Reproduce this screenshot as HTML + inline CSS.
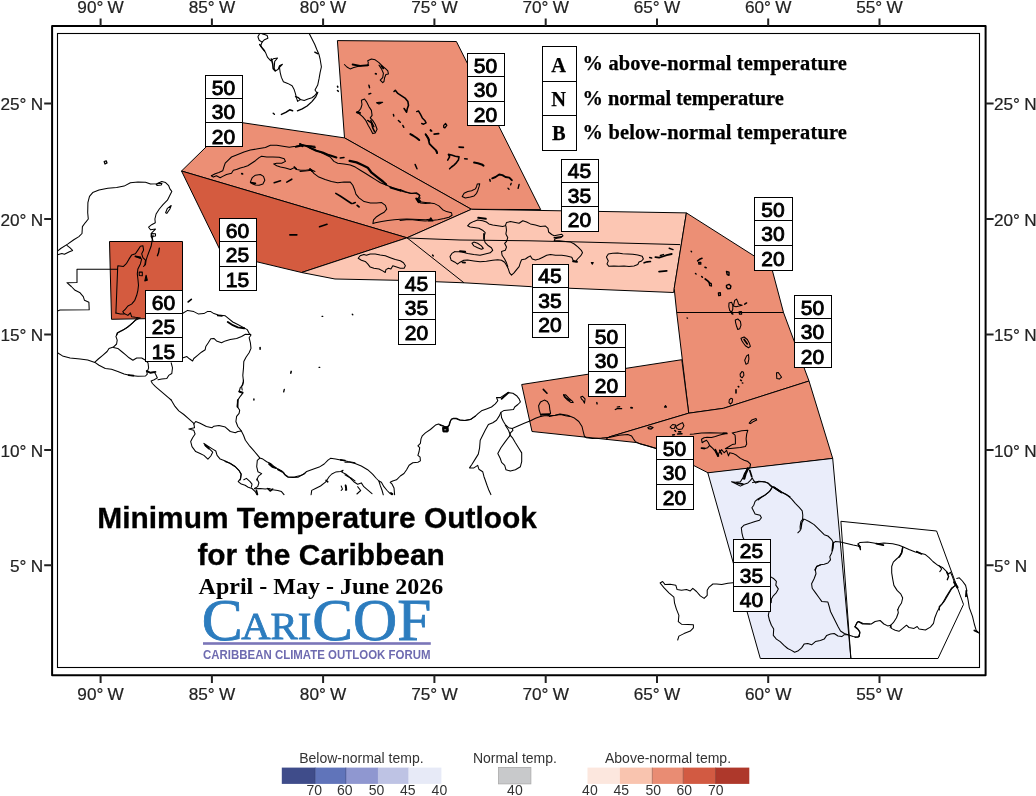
<!DOCTYPE html>
<html lang="en"><head><meta charset="utf-8"><title>Minimum Temperature Outlook for the Caribbean</title>
<style>
html,body{margin:0;padding:0;background:#fff}
svg{display:block}
.ax{font-family:"Liberation Sans",Arial,sans-serif;font-size:17.2px;fill:#222;stroke:#222;stroke-width:0.2;word-spacing:-0.5px}
.cb{font-family:"Liberation Sans",Arial,sans-serif;font-size:14px;fill:#333}
.num{font-family:"Liberation Sans",Arial,sans-serif;font-size:21px;fill:#000;stroke:#000;stroke-width:0.9;text-anchor:middle}
.ttl{font-family:"Liberation Sans",Arial,sans-serif;font-size:29.9px;font-weight:bold;fill:#000;stroke:#000;stroke-width:0.3}
.sub{font-family:"Liberation Serif","Times New Roman",serif;font-size:24px;font-weight:bold;fill:#000}
.leg{font-family:"Liberation Serif","Times New Roman",serif;font-size:20.4px;font-weight:bold;fill:#000;stroke:#000;stroke-width:0.25}
.poly{stroke:#000;stroke-width:1;stroke-linejoin:round}
.coast{fill:none;stroke:#000;stroke-width:1.05;stroke-linejoin:round;stroke-linecap:round}
.box{fill:#fff;stroke:#000;stroke-width:1}
</style></head><body>
<svg width="1036" height="796" viewBox="0 0 1036 796">
<rect width="1036" height="796" fill="#fff"/>

<g class="poly">
<path fill="#EC8F75" d="M337.4,40.6 456.4,41.5 540.7,209.6 471.4,209.3 344.5,137.9Z"/>
<path fill="#EC8F75" d="M181.5,171 232.4,121.2 344.5,137.9 471.4,209.3 407,237.8Z"/>
<path fill="#D45B3F" d="M181.5,171 407,237.8 301.6,272.5 221.7,253.4Z"/>
<path fill="#FCC6B3" d="M301.6,272.5 407,237.8 471.4,209.3 686.4,212.9 673.6,292.5 531.6,286.7 464,282.8 398,280.3 335,279Z"/>
<path fill="#EC8F75" d="M686.4,212.9 771.4,266.9 783.5,312.5 676.7,312.5 674.2,288.3Z"/>
<path fill="#EC8F75" d="M676.7,312.5 783.5,312.5 809,381 723.5,408.3 688.7,413.2Z"/>
<path fill="#EC8F75" d="M521.7,384.5 681.8,359.7 688.7,413.2 609,437 606,439.3 532,431.5Z"/>
<path fill="#EC8F75" d="M609,437 688.7,413.2 723.5,408.3 809,381 832.7,458.4 708.6,473.1 680,458.5 656.5,448.4 636,442.5 606,439.3Z"/>
<path fill="#EAEDFA" d="M707.8,472.8 832.7,458.4 850.9,658.5 760.3,658.5Z"/>
<path fill="none" d="M840.9,521.3 936.6,531 963.5,604.4 938,658.5 850.9,658.5Z"/>
<path fill="#D45B3F" d="M109.5,241.5 182.5,241.5 182.5,318 111.5,319.3Z"/>
<path fill="none" d="M407,237.8 464,282.8"/>
<path fill="none" d="M407,238 460,240 530,240.8 585,242.1 680,244.6"/>
</g>
<g class="coast">
<path d="M259.7,33.5 257.9,36.8 259.2,40.2 262.1,42.1 264.5,39.7 267.9,38.2 267.2,35.6 264.5,34.6 262.4,33.9 261.6,33.5"/>
<path d="M262.1,42.1 260.6,46 263.1,49.3 265.5,52.4 267.4,57.1 270.8,60.8 273.2,58.8 277.6,58 274.7,61.4 274.2,68.2 275.3,71.1 278.2,69.2 279.5,65.8 282.4,64.3 279.5,67.5 280.2,72.6 281.4,77.4 283.4,81.7 287.7,83.4 292.1,85.8 294,89.2 295.5,93.8 296.4,97.7 297.6,101.4 300.3,99.6 304.2,100.4 308,99.1 311.9,97.7 314.6,95.8 316.9,92.7 315,90 317.7,85.1 319.1,78.4 320.1,72.6 321.4,66.8 320.1,59 318.9,54.2 316.7,49.3 314.8,44.5 311.9,38.7 309.2,33.5"/>
<path stroke-width="1.46" d="M259.7,44.5 262.1,47.9 264.5,50.8"/>
<path stroke-width="1.58" d="M271.3,59 272.7,63.8 273.2,68.7 275.1,70.6"/>
<path stroke-width="1.46" d="M314.8,52.2 317.7,53.7"/>
<path stroke-width="1.34" d="M295.5,96.7 298.4,97.7 300.3,99.4"/>
<path stroke-width="1.28" d="M317.7,92.4 315.8,96.8 311.9,101.6 307.1,106 302.2,108.9 297.4,110.8"/>
<path stroke-width="1.46" d="M292.6,110.8 289.7,109.8 285.8,112.4 281.4,114.4"/>
<path stroke-width="1.40" d="M273.2,113.2 274.4,114.2"/>
<path d="M57.5,251.1 60.7,248.5 67.6,244.1 73.8,239.7 78.9,236.6 82,233.5 82.4,226.6 85.2,222.8 88.3,219 87.7,212.7 87.9,202.7 89.5,196.4 92.7,192.6 99,190.1 107.8,188.2 116.6,187.4 124.1,186.1 130.4,182.8 137.9,182 145.5,182.3 150.5,184.1 156.8,183.8 161.8,181.6 165.6,182.6 168.7,185.7 169.9,188.9 171.8,191.4 169.9,195.2 167.4,200.2 163,204.6 159.3,209 156.1,214 154.9,219 155.3,222.8 151.7,224.7 148.6,227.2 150.5,229.7 155.5,229.1 151.7,232.8 151.1,236.6 153,240.4"/>
<path d="M66.9,245.4 70.1,247.9 72.6,250.4 69.4,251.7 64.4,254.2 61.9,253.6 57.5,254.8"/>
<path d="M165.6,212.7 167.4,208.3 171.2,205.5 169.9,209 166.8,213.4Z"/>
<path d="M156.1,184.5 158.6,183.2 162,183.6 161.2,185.1 157,185.4Z"/>
<path d="M151.1,233.5 155.5,233.8 155.5,236 151.5,236.4Z"/>
<path d="M153,235 152,241.3 151.1,246.3 149.2,251.3 147.3,256.4 146.1,260.1 145.5,264.5 143.6,266.4"/>
<path d="M117.6,269.2 77,269.2 77,282.5 66.9,282.7 71.3,286.5 75.1,290.3 80.1,292.8 83.3,296.6 84.5,300.3 88.9,302.2 89.2,309.7 60,310 57.5,311.1"/>
<path d="M115.9,313.1 116.6,295.3 117.6,269.2 117.8,265.8 123.5,266.4 126.6,263.3 129.1,258.9 131.6,255.1 135.4,253.8 137.9,250.1 140.4,246.3 142.9,245.7 143.6,250.1 141.7,253.8 142.9,257.6 145.5,260.1 144.8,265.2"/>
<path d="M135.4,256.4 137.9,257.6 141.7,258.9 140.4,263.9 137.9,268.9 137.3,273.9 137.9,279 138.5,285.3 137.9,290.3 136.7,295.3 134.8,300.3 131.6,304.1 127.9,306 125.4,309.1 122.8,311.6 124.1,313.5 127.9,315.4 130.4,312.9 131.6,316.7 135.4,317.3 140.4,317.9 135.4,320.4 130.4,324.8 125.4,328.6 120.3,331.1 117.2,333 116.6,335"/>
<path d="M115.9,313.1 120.3,314.1 124.1,313.9"/>
<path stroke-width="1.34" d="M159.3,248.2 158.6,252.6 157.4,255.7"/>
<path d="M139.2,272.1 142.3,272.1 142.3,275.8 139.2,275.5Z"/>
<path fill="#000" d="M146.1,275.2 147.3,280.2 144.8,280.9Z"/>
<path stroke-width="1.70" d="M135.4,256.4 140.4,257.4"/>
<path d="M137.3,318.2 132.9,322.6 127.9,327 122.8,330.2 117.8,332.9 115.9,336.4 117.2,340.2 116.6,344 113.4,347.1 109,348.4 107.1,351.5 102.7,355.3 98.3,359 94.9,362.2"/>
<path d="M113.4,347.5 117.8,348.4 121.6,351.5 125.4,354.6 129.1,357.8 132.9,360.3 136.7,358 141.7,358 145.5,360.3 148,362.8 148.6,367.8 147.3,371.6"/>
<path d="M57.5,352.8 62.5,355.9 70.1,358 80.1,359 87.7,360.1 94.9,362.4 99,365.3 105.3,368.5 111.5,369.3 117.8,371.4 124.1,374.1 130.4,375.4 137.9,376.3 145.5,376 147.3,374.1 146.7,371.6 150.5,372.2 154.2,371.9 155.5,374.1 157.4,377.9 154.2,379.8 151.1,381 152.4,383.5 155.5,386.7 159.3,389.8 164.3,394.2 168.1,397.4 171.2,400"/>
<path stroke-width="1.70" d="M146.7,371 150.5,372.9 155.5,371.9"/>
<path stroke-width="1.58" d="M128.5,375.1 133.5,375.6"/>
<path d="M158,379.8 161.8,379.1 166.8,378.5 168.7,375.4 171.8,373.5 172.5,367.8 171.2,362.8"/>
<path d="M182.8,313.2 187.6,310.4 193.8,311.6 198.2,313.9 203.9,313.6 207.7,311.4 210.8,311.6 213.9,313.6 218.3,315.1 225.3,315.8 229,318.9 232.8,322 237.8,324.5 242.8,327.1 247.2,329.6 249.1,333.3 251,335 249.1,337.7 250.4,342.8 251,348.4 249.1,352.8 246,357.2 243.8,361.6 243.5,367.9 242.8,375.4 243.5,381.7 241.6,386.7 242.2,390"/>
<path stroke-width="1.94" d="M227.8,322 232.8,325.2 237.8,327.4 244.1,328.3"/>
<path stroke-width="1.70" d="M217.7,315.5 222.1,315.8"/>
<path d="M250.4,334.6 245.4,334.2 241.6,336.5 236.6,338.4 230.3,339.6 225.3,340.9 221.5,342.8 216.5,340.9 213.9,338.4 210.8,338.7 208.3,342.8 205.8,346.5 205.2,349.7 201.4,352.2 197.6,355.3 193.8,358.5 192.6,361 189.4,358.8 186.9,356.6 183.2,357.8"/>
<path stroke-width="1.70" d="M188.2,301.9 191.3,299.4"/>
<path stroke-width="1.58" d="M260.1,347.5 260.1,349.3"/>
<path stroke-width="1.58" d="M291.2,371.4 290.8,373.2"/>
<path d="M243.5,380 242.8,385 240.3,387.5 239.1,391.9 242.8,393.2 240.3,396.3 237.8,400.1 237.2,406.4 239.7,410.2 239.1,413.3 236.6,416.4 235.9,421.5 237.8,426.5 240.3,429.6 241.6,431.5 243.5,435.3 245.4,440.3 249.1,445.3 252.9,449.7 256.7,454.1 259.8,457.9 262.9,459.1 266.7,461.7 270.5,463.5 274.2,466.7 278,469.2 281.8,471.1 284.3,474.2 288.1,476.7 294.3,477 300.6,475.5 305,473.6"/>
<path stroke-width="1.58" d="M239.1,391.3 242.8,392.6"/>
<path stroke-width="1.70" d="M237.8,400.1 237.6,407"/>
<path d="M241.6,430.9 237.8,431.5 235.3,432.8 230.3,431.5 225.3,427.1 219,425.5 213.9,426.2 212.1,427.7 206.4,426.5 200.1,423.3 195.7,421.5 193.8,424"/>
<path d="M171.2,400 175,406.4 178.8,410.8 183.8,414.5 188.8,418.9 193.8,423.3 194.5,427.7 188.8,429 193.8,430.3 195.1,434 192.6,437.8 190.7,441.6 192,446.6 195.7,451.6 200.1,453.5 203.9,455.4 207.9,459.1 210.8,456 212.7,452.2 210.2,449.7 206.4,446.6 203.9,443.4 207.7,446 212.7,449.1 215.8,451 217.1,455.4 220.2,459.1 225.3,461 230.3,463.5 235.3,466.7 239.1,470.5 241,474.2 240.3,480"/>
<path stroke-width="1.70" d="M205.2,445.3 208.9,448.5"/>
<path d="M259.8,458.1 257.3,460.4 256.7,466.7 257.9,471.7 261.7,473.6 258.5,476.1 256.7,480"/>
<path stroke-width="1.46" d="M253.9,399.1 253.9,400.1"/>
<path stroke-width="1.34" d="M284.3,389.4 283.7,391.9"/>
<path stroke-width="2.06" d="M269.2,463.9 272.4,466.7 275.5,467.9"/>
<path stroke-width="1.94" d="M278,469.4 281.8,471.5"/>
<path d="M355,462.7 348.1,461.5 341.8,460.2 335.6,458.9 330.5,458.3 328,460.2 324.2,464 319.2,467.1 312.9,469.2 306.7,471.5 302.9,474.6 297.9,477.2 292.8,477.4 287.8,477.2 285.3,475.3 283.4,472.1"/>
<path stroke-width="1.58" d="M340.6,459.9 345,460.5"/>
<path d="M225,461.5 230,463.3 235.1,466.5 238.8,470.3 241.3,474 240.7,478.4 238.2,481.6 241.3,484.1 245.1,485.3 248.2,487.2 252,488.5 255.2,491.6 257,494.7"/>
<path d="M243.8,479.7 246.4,478.4 250.1,481.6 252,484.1 251.4,487.2"/>
<path d="M254.5,488.8 260.2,488.5 265.2,489.1 269,488.5 272.7,489.7 277.8,490.4 281.5,491.6 284,494.7"/>
<path stroke-width="1.58" d="M267.7,488.5 270.2,491 272.7,489.1"/>
<path d="M311.1,494.7 311.7,490.4 315.5,488.5 320.5,486 325.5,482.2 329.3,476.5 331.8,474 335.6,472.1 340.6,471.5 343.1,470.3 341.8,472.1 345.6,474 350.6,477.8 355,480.9"/>
<path d="M341.2,486 342.5,489.1 341.2,490.4"/>
<path d="M345.6,485.3 346.6,488.5 345.4,490.1"/>
<path stroke-width="1.58" d="M326.1,480.3 327.8,481.8"/>
<path stroke-width="1.70" d="M256.4,490.4 257.4,494.4"/>
<path d="M345,462.2 350,462.2 355.1,463.4 361.3,466 367.6,469.7 372.6,474.1 376.4,478.5 378.9,481 381.4,482.3 383.9,486.7 387.1,490.5 390.2,493.6 392.1,494.8"/>
<path d="M378.9,481 380.2,485.4 382.1,490.5 383.3,494.8"/>
<path d="M345,474.7 350,477.9 353.8,481.7 357.6,484.2 361.3,482.9 363.8,486.7 367.6,489.8 372,493.6"/>
<path d="M357.6,486.7 360.7,490.5 356.9,494"/>
<path stroke-width="1.82" d="M345.6,485.4 346.3,489.8"/>
<path d="M394.6,494.8 394,487.9 392.1,484.2 390.2,482.3 392.7,481 396.5,479.8 400.3,476 404,473.5 406.6,469.7 409.1,465.3 412.8,462.8 417.9,462.2 420.4,460.9 420.1,457.2 417.9,455.3 419.1,451.5 419.7,447.7 417.9,445.9 420.4,443.3 421,438.9 422.3,435.8 425.4,432.9 430.4,429.5 435.5,425.1 438.6,424.1 443,425.8 445.5,427 448.6,426.4 449.9,422 451.8,418.8 455.6,418.6 459.3,420.1 464.3,420.4 470.6,419.5 475,416.3"/>
<path stroke-width="1.70" d="M443.2,428.6 447,428.6 447,431.7 443.5,431.4Z"/>
<path stroke-width="1.82" d="M390.9,493 392.5,494"/>
<path d="M475.1,416.3 477.7,413.9 481.5,410.8 486.5,408.9 491.5,407 495.3,403.9 497.8,400.7 496.5,397.6 500.3,397.6 504.1,395.1 507.8,392.6 512.9,393.2 516.6,395.7 519.1,398.8 520.4,402 517.9,404.5 514.7,407 513.5,409.5 509.1,409.9 504.1,410.4 500.9,412.4 501.6,417.7 503.4,421.5 505.3,424.6 508.5,427.7 512.2,428.4 512.9,430.3 510.4,432.8 509.7,435.9"/>
<path d="M440,425.2 442.5,425.9 446.3,427.1 449.4,425.2 450.7,420.2 453.2,418.3 456.3,418.3 460.1,419.9 465.1,420.5 470.2,419.6 473.9,417.1 475.1,416.3"/>
<path stroke-width="1.70" d="M443,427.7 447.8,427.5 448,430.8 443.5,431.3Z"/>
<path stroke-width="1.82" d="M501.6,398.8 508.5,392.6"/>
<path d="M509.7,435.9 505.3,441.6 500.9,447.8 497.8,453.5 500.3,458.5 501.6,462.3 504.7,465.4 506,469.8 510.4,471.1 515.4,469.8 520.4,466.7 521.7,461.7 521.7,452.9 518.5,447.8 515.4,442.8 512.9,438.4 510.4,435.3 508.5,430.3 505.3,425.2"/>
<path d="M500.9,412.4 499,416.4 496.5,420.2 492.8,422.7 488.4,424.6 485.2,430.3 482.7,435.3 480.2,440.3 479.6,447.8 478.3,454.1 475.2,459.1 472,464.2 469.5,467.9 473.9,467.9 477.7,465.4 478.9,469.2 482.7,471.7 484,476.7 485.2,480 487.1,485.5 489,490.6 490.9,494.6"/>
<path d="M512.2,428.4 517.9,425.9 524.2,423.3 530.5,420.8 535.5,418.3 540.5,416.4 544.3,415.8 549.3,415.8 555.6,415.2 560.6,414.5 565.6,415.8 570,416.4"/>
<path d="M541.1,416.2 539.2,410.2 538.6,405.8 540.5,402 544.3,400.1 547.4,401.4 549.3,405.1 549.9,410.2 550.6,413.3 548,415.8"/>
<path stroke-width="1.94" d="M541.8,414.5 549.3,414.2"/>
<path stroke-width="1.58" d="M543.3,389.4 547,393.2"/>
<path stroke-width="1.46" d="M563.7,394.8 565.6,397.6 570,400.4"/>
<path d="M549.3,416.4 555,415.2 560,413.9 567.5,415.2 573.8,417.7 578.8,421.5 582,426.5 583.2,431.5 584.5,436.5 586.4,437.8 592.7,438.4 601.5,438 610.3,437.2 619,435.3 627.8,434.6 631.6,435.9 633.5,439 635.4,441.6 640.4,444.1 647.9,446 656.7,448.8"/>
<path d="M563.8,395.1 565.7,394.8 568.8,398.2 572.6,401.4 573.2,402.6 570.7,402.4 566.9,399.5 564.4,397Z"/>
<path d="M580.7,397 582.6,396.3 585.1,398.8 584.5,403.2 583.2,400.7 581.4,398.8Z"/>
<path stroke-width="1.46" d="M596.8,402.6 597.1,403.9"/>
<path stroke-width="1.34" d="M615.3,409.5 617.8,408.3 621.6,408.6"/>
<path stroke-width="1.22" d="M617.2,407 619.7,406.6"/>
<path stroke-width="1.82" d="M631,407.6 632.2,407.9"/>
<path fill="#000" d="M665.5,405.5 666.5,407.1 664.5,407.1Z"/>
<path stroke-width="1.28" d="M647.9,427.5 650.5,426.5 653,427.5 651.1,429 648.6,428.7Z"/>
<path d="M670.1,427 672.6,424.5 675.7,425.1 674.4,428.3 671.9,428.6Z"/>
<path d="M675.7,426.6 678.8,424.5 682.6,422.6 683.9,425.8 682,428.9 678.8,429.5 677,428.6Z"/>
<path stroke-width="1.58" d="M674.8,430.5 675.6,431.2"/>
<path stroke-width="1.58" d="M678.6,431.7 680.7,431.9"/>
<path stroke-width="1.46" d="M672.6,434.9 674.4,434.7"/>
<path stroke-width="1.46" d="M677.6,433.9 682,433.7"/>
<path d="M690.2,434.2 693.7,433.9 701.5,432.9 710.3,432.7 719,432.9 726.6,433.3 722.8,434.2 719,435.2 715.3,436.4 711.5,437.4 707.1,437.2 704,437.7 701.5,439.2 702.1,442.7 704,441.5 706.5,440.2 708.4,442.7 709.6,445.5 707.7,447.7 704,448.7 701.5,448.4"/>
<path stroke-width="1.82" d="M723.4,433.4 726.8,433.4"/>
<path stroke-width="1.70" d="M701.5,448 704.6,448.4"/>
<path d="M732.2,432.9 736.6,432 741.7,430.8 747.9,430.2 746.7,433.9 746.1,438.9 746.7,444 745.4,446.5 740.4,447.5 735.4,448 730.4,448.4 725.3,448.7 729.1,446.5 732.2,444.6 735.4,444 735.4,438.9 735.1,435.2Z"/>
<path d="M749.2,423.2 751.7,420.1 756.1,418.6 756.7,420.1 753.6,421.4 750.5,423.6Z"/>
<path d="M709.6,445.5 712.8,448.4 715.3,451.5 717.8,456.5 719,452.8 721.6,449.6 724.1,452.8 726.6,450.3 728.5,455.9 729.7,452.8 732.9,453.4 736.6,455.3 740.4,458.4 744.2,460.3 747.9,461.6 750.5,464.1 749.8,467.8 746.7,470.4 744.2,474.1 742.9,477.9 740.4,481.7 735.4,482.3 731.6,481.7 735.4,483.5 740.4,486.1 744.2,484.2 747.9,482.9 750.5,480.4 752.3,477.9 753.6,480.4 755.5,482.9 759.2,481.7 764.3,481.7 768,482.9 770.6,486.1 774.3,487.9 778.1,490.5 783.1,493 790,496.7"/>
<path stroke-width="1.70" d="M715.3,449.6 718.4,455.9"/>
<path stroke-width="1.58" d="M719.7,450.3 721.6,454"/>
<path stroke-width="2.42" d="M747.9,468.5 745.4,474.1 744.2,478.5"/>
<path stroke-width="1.70" d="M749.8,470.4 751.7,476.6"/>
<path stroke-width="1.70" d="M736.6,482.9 742.9,484.2"/>
<path d="M771.8,487.9 769.3,491.7 764.3,495.5 760.5,498 758,500"/>
<path stroke-width="1.58" d="M774.3,487.3 780.6,491.7"/>
<path d="M752.6,482.6 758.8,481.3 765.1,481.9 768.9,483.8 772.7,487 776.4,488.8 781.5,492 786.5,494.5 791.5,498.9 795.3,503.3 799,507.1 802.2,510.8 802.8,515.2 802.6,519 805.3,519.6 809.1,521.5 814.1,524.6 817.9,528.4 821.7,532.2 824.2,534.7 827.9,536 831.7,539.7 833.6,542.9 835.5,541.4 840.5,541.9 846.8,543.5 853.1,545.1 858.1,546 860,547.3 860.6,549.8"/>
<path stroke-width="1.58" d="M773.3,487 781.5,492.6"/>
<path d="M802.8,519 800.9,521.5 800.1,526.5 800.3,530.3 797.8,532.8"/>
<path stroke-width="1.34" d="M803.4,519.6 801.8,522.8 800.9,529"/>
<path d="M772,487.6 770.2,490.7 767.6,493.2 765.1,495.1 761.4,497 757.6,499.1 755.1,501.4 753.8,505.2 751.9,507.7 753.2,510.2 755.1,514 760.1,515.2 761.4,517.7 759.5,520.3 755.1,521.5 751.3,522.8 747.5,524 743.8,525.3 741.3,527.8 741.9,532.8 743.1,537.8 743.8,539.1"/>
<path d="M833.6,542.9 833,547.9 831.7,552.9 829.8,556.7 830.5,559.8 827.9,563 824.2,564.2 820.4,564.8 816.6,566.7 814.7,570"/>
<path stroke-width="1.58" d="M833,542.9 832.3,550.4"/>
<path stroke-width="1.34" d="M858.1,544.1 860.4,546.9"/>
<path d="M820.4,565 816.6,566.3 815.4,570 816,573.8 814.1,578.8 811.6,583.8 812.2,588.2 815.4,592.6 819.1,597.7 821.7,601.4 827.9,602.1 829.2,606.5 830.5,611.5 833,616.5 835.5,621.5 838,626.6 840.5,631 844.3,633.5 848,634.7"/>
<path d="M770.8,576.9 773.9,578.8 776.4,581.3 775.8,585.1 778.3,588.9 776.4,592.6 773.3,595.8 771.4,598.9 771.2,602.7"/>
<path d="M769.1,611.5 768.3,615.3 769.5,620.3 771.4,625.3 773.7,629.1 773.3,635.4 776.4,639.1 780.2,641.6 784,645.4 787.7,648.5 791.5,650.4 794.6,652.3 797.8,651.1 801.6,647.9 804.1,644.1 807.8,643.5 811.6,644.8 815.4,641.6 820.4,640.4 824.2,639.1 826.7,635.4 830.5,634.1 834.2,633.5 838,636 841.8,636.6 844.3,634.7 848,634.7 853.1,636.6 858.1,637.2 860,632.8 858.1,629.7 854.9,627.2 856.8,622.8 858.7,621.5 863.1,623.4 870,624"/>
<path d="M860.3,549.6 860,547.7 858.1,543.9 860,542.4 867.6,542 873.8,542.9 877.6,543.7 883.9,542.9 892.7,543.7 899,545.2 903.4,547.1 909,549.6 915.3,552.1 920.3,553.3 925.4,554.6 929.1,557.7 932.9,561.5 937.9,565.3 942.9,567.8 946.7,571.6 948.6,574.1 950.5,572.2 952.4,576.6 954.2,581.6 955.5,585.4"/>
<path stroke-width="1.82" d="M876.4,543.7 883.3,545.2"/>
<path stroke-width="1.46" d="M916.6,551.5 921.6,554"/>
<path d="M939.2,565.9 941.7,569 939.8,571.6"/>
<path stroke-width="1.34" d="M946.7,572.2 948.6,576.6 947.3,579.7"/>
<path d="M902.7,547.1 902.1,551.5 900.2,555.9 896.5,559 893.3,562.1 891.7,566.5 891.7,572.8 892.7,579.1 893.9,585.4 897.1,590.4 900.9,594.2 902.7,597.9 901.5,603 899,606.7 897.7,610"/>
<path stroke-width="1.58" d="M902.7,547.7 901.5,553.3 899,557.1"/>
<path d="M955.5,585.4 951.7,587.9 948.6,592.9 945.5,597.9 942.3,603.6 939.2,606.7 939.4,610"/>
<path stroke-width="2.30" d="M954.2,582.2 957.4,587.3"/>
<path d="M956.8,578.5 959.3,577.8 962.4,581 965.6,585.4 966.8,590.4 965.6,596.7"/>
<path d="M897.7,609.5 898.3,612.7 896.5,617.7 893.3,622.7 890.8,625.2 890.2,627.7"/>
<path d="M855,626.5 856.9,623.3 858.1,621.5 862.5,624 871.3,624 875.1,621.5 880.1,620.5 883.9,624 887.7,625.9 890.8,625.2 891.4,628.4 895.2,630.3 899,631.3 902.7,628.4 906.5,625.2 909,627.5 914,628.4 917.2,626.5 919.1,629 925.4,630 930.4,627.1 933.5,623.3 934.8,617.7 937.3,611.4 940.4,605.8 944.2,601.4 948,595.1 951.7,588.8 954.9,585.7"/>
<path d="M855,626.5 857.5,628.4 859.8,631.5 859.4,636.5 855,637.5"/>
<path d="M966.6,590.1 966.6,592.6 968.1,600.1 969.3,607.6 972.5,616.4 974.3,624 976.2,630.3 978.7,632.8 979.6,634"/>
<path stroke-width="1.58" d="M966.2,590.7 966.2,596.3"/>
<path stroke-width="1.70" d="M974.3,630.5 977.5,632.1"/>
<path d="M733,582.7 727.9,583.3 721.7,584.6 716.6,584 712.9,584 709.1,587.1 707.2,590.3 707.2,595.3 704.1,598.4 700.3,595.9 696.5,591.5 692.8,588.4 690.3,590.9 686.5,589.6 681.5,590.3 677.1,589.6 675.8,585.2 670.2,584.2 665.1,584.6 662.6,581.5 660.1,583 663.9,587.7 668.9,592.8 673.9,597.2 674.5,602.8 676.4,609.1 678.9,615.4 678.3,621.7 681.5,624.2 687.7,624.4 693.4,624.8 693.4,627.9 690.3,631.1 684,633.6 678.9,636.1 677.7,640"/>
<path d="M211.4,175.8 215.2,173.7 218.9,172.4 222.7,170.8 223.9,167 225.2,163.2 228.3,160.1 231.5,157 237.8,154.4 244,151.9 250.3,150.1 257.9,148.8 265.4,147.5 270.4,145.3 276.7,145.3 283,146.3 289.3,147.3 295.6,146.3 301.8,145 308.1,145.7 315,146.3"/>
<path d="M211.4,175.8 213.3,177.1 216.4,175.8 220.2,177.7 222.7,176.4 226.5,174.5 231.5,173.3 233.4,170.2 236.5,169.5 240.3,167.9 244,167 247.8,165.8 251.6,163.2 255.4,160.7 259.1,157.6 261.6,156.3 266.7,157 272.9,157 279.2,157.3 284.2,158.8 285.5,161.4 281.7,163.2 276.7,163.2 273.6,163.9 276.7,165.8 280.5,167 285.5,167.9 290.5,169.5 294.3,167.6 296.8,169.5 300.6,170.2 305.6,170.2 310.6,169.5 315,171.4"/>
<path d="M250.3,182.1 252.2,177.7 255.4,175.2 260.4,174.5 263.5,176.4 264.8,180.2 262.9,184 259.1,185.2 255.4,185 252.2,183.7Z"/>
<path stroke-width="1.70" d="M251,182.7 255.4,183.3"/>
<path stroke-width="1.82" d="M241.8,173.7 242.5,173.9"/>
<path stroke-width="1.58" d="M274.2,182.7 280.5,180.8"/>
<path stroke-width="1.58" d="M286.8,182.1 291.8,179.2"/>
<path stroke-width="1.70" d="M289.9,234.8 296.8,234.8"/>
<path stroke-width="1.70" d="M294.3,167 296.2,168.9"/>
<path stroke-width="1.70" d="M310,169.1 311.9,170.8"/>
<path stroke-width="1.70" d="M295.6,146.9 303.1,145.3 310.6,146.3 315,147.5"/>
<path d="M300,143.8 305,145.7 310.1,148.2 315.1,150.1 320.1,152 325.1,154.5 330.2,157 333.9,161.4 337.7,163.3 344,163.9 350.3,164.9 355.3,167.1 360.3,170.2 365.3,173.3 370.4,176.5 375.4,179.6 380.4,182.8 386.7,185.3 393,188 399.2,190.3 405.5,192.2 411.8,193.4 416.8,192.8 420,195.3 418.1,198.5 417.5,201.6 420.6,202.9 425.6,203.5 430,202.9"/>
<path stroke-width="2.06" d="M300,144.1 302.5,146.1"/>
<path stroke-width="2.06" d="M310.1,147.8 316.3,150.7 322.6,152.4 328.9,155.1 336.4,157.4"/>
<path stroke-width="1.46" d="M340.2,157.9 344,157.6"/>
<path stroke-width="2.30" d="M349.6,160.8 356.5,162.4 362.8,165.2 367.8,167.7 371.6,172.7 377.9,177.7 382.9,181.5 386.1,184.3"/>
<path stroke-width="2.06" d="M390.5,187.5 395.5,189 400.5,190.6"/>
<path stroke-width="1.94" d="M416.2,198.5 418.7,202.2"/>
<path d="M300,171.5 307.5,170.8 311.3,170.2 313.8,173.3 318.8,177.1 325.1,179.6 331.4,181.5 337.7,182.8 344,182.1 350.3,182.1 352.8,185.3 354.6,189.7 355.9,194.1 359,197.8 364.1,201.6 370.4,202.9 376.6,202.9 381.7,202.6 385.4,205.4 386.7,209.1 384.2,212.3 380.4,214.2 376.6,216.7 373.5,219.8 372.9,223.6 375.4,222.7 381.7,221.5 387.9,220.5 394.2,219.8 400.5,219.2 406.8,218.9 413.1,219.2 419.3,219.4 425.6,219.8 430,219.2"/>
<path stroke-width="1.82" d="M310.1,169.2 312.3,171.2"/>
<path stroke-width="1.58" d="M335.8,193.4 340.2,196 344,198.5 347.7,201 351.5,203.5"/>
<path stroke-width="1.58" d="M352.8,203.5 355.3,202.6"/>
<path stroke-width="1.82" d="M357.2,205.4 359,206.9"/>
<path stroke-width="1.58" d="M319.5,226.7 327,224.2"/>
<path d="M400,189.6 405,191.5 410.1,193.3 415.1,193.3 418.8,194.6 420.1,198.4 417.6,200.3 421.4,202.1 427.6,202.8 433.9,203.4 438.9,205.9 442.7,209.7 446.5,211.6 451.5,212.8 452.1,215.3 449,217.2 444,218.5 437.7,219.7 431.4,220.4 425.1,221 418.8,220.4 412.6,219.7 406.3,219.7 400,220.4"/>
<path stroke-width="2.30" d="M417,199 420.1,201.5"/>
<path fill="#000" d="M430.8,217.8 432.9,221 428.6,221Z"/>
<path d="M462.2,196.5 464.1,193.3 467.8,191.5 471.6,190.8 475.4,188.9 476.6,186.4 477.3,183.9 479.8,183.7 479.1,186.4 477.9,190.2 476.6,193.3 474.1,195.9 470.4,197.1 465.3,198Z"/>
<path stroke-width="1.58" d="M447.7,160.1 449.6,156.9 448.4,154.4 451.5,155 455.3,156.3 459,156.9 458.4,160.1 456.5,162.6 454,165.1 451.5,167 449.6,168.8"/>
<path stroke-width="2.06" d="M474.1,162.6 477.9,163.2 481.7,164.4 483.5,165.7"/>
<path stroke-width="1.94" d="M492.3,178.3 495.5,177 499.2,174.5 502.4,175.1 505.5,177 509.3,177.6 511.8,180.2"/>
<path stroke-width="1.46" d="M489.8,179.5 490.2,181.2"/>
<path stroke-width="1.34" d="M511.2,183.3 510.6,184.9"/>
<path stroke-width="1.34" d="M508,188.3 509,189.2"/>
<path stroke-width="1.34" d="M519.1,184.5 518.1,188.3"/>
<path stroke-width="1.46" d="M415.1,164.4 417,168.8"/>
<path stroke-width="1.58" d="M436.4,150.6 437.2,153.1"/>
<path stroke-width="1.58" d="M464.7,158.8 467.2,159"/>
<path d="M455,251.5 461.3,251.8 467.6,253.4 473.8,254.6 480.1,255.3 485.2,254 490.2,252.8 492.7,250.3 491.4,247.7 487.7,245.2 485.2,242.7 483.9,238.9 484.5,235.2 485.2,232.7 482.6,230.2 478.9,228.3 473.8,227.4 470.1,227 467.6,225.8 470.1,223.2 473.8,221.4 477.6,220.1 482.6,220.7 486.4,222 488.9,223.9 492.7,225.1 497.7,225.8 502.7,226.4 505.3,225.8 506.5,222.6 510.3,221.6 515.3,222.4 519.1,223.2 522.8,220.7 526.6,222 530.4,223.9 535.4,225.1 540.4,226.4 545.5,226.1 548,228.3 548.6,232 551.7,234.5 554.2,235.8 558,234.9 561.8,234.2 563,235.8 560.5,237.7 556.8,238.3 554.9,238.9 554.2,240.8 559.3,240.8 565.6,241.5 570.6,242.1 574.3,244 578.1,247.1 581.3,250.3 582.5,252.8 580.6,255.9 577.5,259 575.6,261.6 573.1,260.3 571.8,257.2 566.8,255.9 561.8,255.3 555.5,255.3 550.5,254.6 546.7,255.3 542.9,257.2 539.2,259 535.4,260.1 532.3,259 530.4,255.9 527.9,257.2 525.4,259 521.6,259.7 520.3,262.8 519.1,266.6 516.6,269.7 514,272.9 511.5,275.1 509.6,272.9 508.4,269.1 506.5,265.3 504.6,262.2 501.5,260.3 497.7,259.7 492.7,260.3 486.4,261.3 480.1,261.8 473.8,260.9 467.6,260.1 463.8,260.3 460,262.2 457.5,264.1 455,262.2 451.2,260.3 450,256.5 451.9,253.4 455,251.5"/>
<path stroke-width="1.94" d="M478.2,217.8 485.8,218.8"/>
<path d="M472,243.3 473.8,242.1 477.6,243.3 481.4,245.9 483.3,248.4 481.4,249.2 477.6,247.7 473.8,245.9Z"/>
<path d="M505.9,225.8 506.5,230.2 505.9,233.9 507.8,237.7 506.5,241.5 504.6,243.3 506.5,247.1 505.3,250.3 501.5,251.5 502.1,255.3 504.6,259 506.5,262.8 507.8,266.6"/>
<path stroke-width="1.94" d="M573.1,261.3 576.9,261.8"/>
<path stroke-width="2.06" d="M460,251.3 465.1,251.8"/>
<path stroke-width="1.70" d="M462.5,262.3 465.1,262.6"/>
<path stroke-width="1.46" d="M554.2,237.7 561.8,236.7"/>
<path stroke-width="1.58" d="M483.9,233.9 484.1,238.9"/>
<path d="M358.2,258.3 360.1,255.8 363.9,254.5 366.4,255.2 370.2,253.9 375.2,253.9 380.2,254.9 385.3,255.8 390.3,257.7 395.3,259.5 400.3,260.8 403.5,262.7 405.4,265.8 404.1,268.3 400.3,268.3 396.6,267.1 392.8,265.8 390.9,269 388.4,268.3 385.9,269.6 385.3,272.5 382.7,270.9 379,269 373.9,268.3 370.2,267.1 367.7,263.9 365.2,261.4 361.4,260.2Z"/>
<path stroke-width="1.58" d="M432.7,255.2 433.2,255.9"/>
<path stroke-width="1.34" d="M352.3,314.2 352.8,314.7"/>
<path d="M344.4,64.5 346.9,67 350.1,68.9 353.8,67.6 357.6,66.4 362.6,65.8 367.7,65.8 368.3,62.6 367.7,60.7 371.4,59.1 375.2,59.8 379,62.6 382.1,65.8 385.3,68.3 387.8,70.8 388.4,73.9 385.9,74.5 384.6,77.7 384,81.5 382.7,82.7 380.2,80.2 382.7,77.7 383.4,73.3 381.5,68.9 379,65.1"/>
<path stroke-width="1.82" d="M352.6,64.5 360.1,65.8 368.3,65.1"/>
<path stroke-width="1.94" d="M381.5,65.8 383.4,68.3"/>
<path stroke-width="1.70" d="M375.5,73.7 376.2,73.9"/>
<path d="M361.4,100.3 364.5,99 366.4,101.6 368.9,106.6 371.4,110.4 372.1,115.4 370.2,117.9 372.7,120.4 375.2,124.2 377.1,129.2 375.2,133 372.7,133.6 370.8,129.8 368.3,125.4 365.8,120.4 362.6,116.6 358.9,113.5 356.4,112.6 358.9,111 360.8,108.5 362,104.7Z"/>
<path stroke-width="1.46" d="M367.7,120.4 371.4,122.9 372.7,127.9 374.6,131.7"/>
<path stroke-width="1.34" d="M370.8,120.4 373.9,126.7"/>
<path stroke-width="1.94" d="M357,112.2 360.1,112.9"/>
<path stroke-width="1.46" d="M368.9,85.2 369.5,87.7"/>
<path stroke-width="1.46" d="M368.9,94 370.8,93.4"/>
<path fill="#000" d="M376.5,102.8 379,102.2 382.7,102.2 379,104.1Z"/>
<path stroke-width="1.58" d="M394,91.5 395.3,90.3 397.8,93.4 401.6,95.9 405.4,98.4 407.9,101.6 408.5,105.3 407.2,109.1 406.6,112.2 404.1,108.5"/>
<path stroke-width="1.46" d="M416.7,111.6 418.5,111 420.4,114.1 422.3,117.9 424.8,120.4 426.1,122.9 423.6,124.2 421.7,123.5"/>
<path stroke-width="1.46" d="M393.4,114.4 393.8,116"/>
<path stroke-width="1.46" d="M398.4,120.4 400.3,122.3"/>
<path stroke-width="1.46" d="M402.8,125.4 403.8,127.3"/>
<path stroke-width="1.34" d="M443.7,125.4 445.6,123.5 446.8,125.4 444.9,127.9 443.7,127.3Z"/>
<path stroke-width="2.06" d="M410.4,134.2 412.9,135.5 416.7,138 419.2,140"/>
<path stroke-width="1.70" d="M425.5,134.2 428,137.4 429.2,140"/>
<path stroke-width="1.82" d="M434.2,134.2 438.6,133.6"/>
<path stroke-width="1.46" d="M430.5,129.8 431.7,131.1"/>
<path stroke-width="1.58" d="M337.5,86.2 337.8,87.1"/>
<path stroke-width="1.58" d="M337.5,90.5 338.3,91.3"/>
<path stroke-width="1.82" d="M425.8,134.5 428.3,138.9 429.5,143.9 432.7,147.1 435.8,150.2 437.1,153"/>
<path stroke-width="1.58" d="M459,147.1 463.4,147.4"/>
<path stroke-width="1.34" d="M430.2,130.4 430.9,131.1"/>
<path d="M606.4,257.1 608.3,254 612.7,253.3 617.7,253 622.7,253.7 627.7,254 632.8,254.2 637.8,255 642.2,256.2 643.4,259 641.6,260.9 639,262.1 637.8,264.6 634,265.9 629,266.5 624,265.9 618.9,266.3 613.9,265.9 608.9,266.3 607,264 608.3,260.9Z"/>
<path fill="#000" d="M591.3,262.5 593.3,262.5 592.3,264.3Z"/>
<path stroke-width="1.58" d="M649.7,257.5 651.6,258"/>
<path stroke-width="1.70" d="M644.1,262.8 647.2,261.8 650.4,261.5"/>
<path stroke-width="1.82" d="M655.4,257.1 659.1,257.7 662.9,256.5 666.7,255.2 671.7,254"/>
<path stroke-width="1.46" d="M660.4,255.5 663.5,254.6"/>
<path stroke-width="1.46" d="M669.2,248.3 673,249.6"/>
<path stroke-width="1.82" d="M659.1,271.6 666.7,270.9"/>
<path stroke-width="1.58" d="M697.6,260.8 700.2,258.9 702,258.3"/>
<path stroke-width="1.28" d="M698.6,262.5 700.8,262.5 700.8,264.2 698.9,264.2Z"/>
<path stroke-width="1.46" d="M704.9,267.2 706.2,267.7"/>
<path stroke-width="1.46" d="M695.5,273.5 696.1,274"/>
<path stroke-width="1.58" d="M701.7,276.5 702.4,277.2"/>
<path stroke-width="1.70" d="M705.2,279 707.7,280.9 709.6,282.8"/>
<path stroke-width="1.28" d="M709.2,283.4 711.2,283.4 711.5,286 709.7,285.6Z"/>
<path stroke-width="1.40" d="M726.5,271.5 729,272.1 729,275.3 727.2,274.6Z"/>
<path stroke-width="1.40" d="M726.5,285.3 729,284.3 730.9,286 730.3,288.5 727.8,288.8 726.5,287.2Z"/>
<path stroke-width="1.34" d="M718.4,292.9 720.3,292.6 720.5,295.4 718.7,295.6Z"/>
<path d="M729,302.9 731.6,302.3 732.8,305.4 732.8,309.2 731.6,312.3 729.7,310.5 728.8,306.7Z"/>
<path d="M734.7,300.4 736.6,299.1 737.8,301.7 738.5,304.2 742.2,305.2 739.1,306.1 736,306.7 733.4,306.1Z"/>
<path stroke-width="1.28" d="M739.1,312 741.4,311.7 741.6,314 739.5,314.2Z"/>
<path stroke-width="1.46" d="M744.7,304.2 746.6,302.9"/>
<path stroke-width="1.58" d="M731.8,313.6 732.8,314"/>
<path stroke-width="1.28" d="M691.1,251.2 691.6,251.7"/>
<path stroke-width="1.28" d="M687,318 687.5,318.2"/>
<path d="M735.3,320.1 737.8,319 740.4,321.3 741,325.1 739.7,328.8 737.8,329.5 736.6,326.3 735.6,322.6Z"/>
<path d="M741,338.3 744.1,337 747.3,339.5 749.1,342.7 750.4,346.4 748.5,347.7 745.4,345.8 743.5,343.3 741.9,340.8Z"/>
<path stroke-width="1.70" d="M744.1,339.5 747.3,343.9"/>
<path d="M744.7,360.3 746.6,355.9 748.5,354.6 748.9,359 747.9,363.4 746,364.3Z"/>
<path d="M740.1,374.1 741.9,371.6 743.5,372.2 743.9,375.3 742.2,377.8 740.4,376.6Z"/>
<path stroke-width="1.58" d="M740.6,380.1 741.4,380.6"/>
<path stroke-width="1.28" d="M742.2,382.9 742.9,383.1"/>
<path stroke-width="1.46" d="M738.2,386.4 738.8,386.9"/>
<path stroke-width="1.58" d="M736,389.8 736,392.9"/>
<path d="M729.3,399.8 730.9,398.3 732.6,398.9 732.2,402.3 730.3,404 729,402.7Z"/>
<path d="M776.5,372.8 778.3,372.6 779.9,374.7 781.6,377.2 779.3,379.1 776.8,378.5Z"/>
<path stroke-width="1.28" d="M322,316.3 322.8,316.3"/>
<path stroke-width="1.28" d="M319,367.3 319.8,367.3"/>
<path d="M257,479 258.9,482.8 257.7,486.6 254.5,488.5"/>
<path stroke-width="1.28" d="M104.2,161.5 106.2,160.8 107,163 105,164Z"/>
</g>
<rect x="57.5" y="33.5" width="922" height="634" fill="none" stroke="#000" stroke-width="1.1"/>
<rect x="52.1" y="26.1" width="933.5" height="649.2" fill="none" stroke="#000" stroke-width="2" stroke-linejoin="round"/>
<g stroke="#222" stroke-width="2" fill="none">
<path d="M100.6,18.5V26M100.6,675.2V683"/>
<path d="M211.9,18.5V26M211.9,675.2V683"/>
<path d="M323.1,18.5V26M323.1,675.2V683"/>
<path d="M434.4,18.5V26M434.4,675.2V683"/>
<path d="M545.7,18.5V26M545.7,675.2V683"/>
<path d="M657.0,18.5V26M657.0,675.2V683"/>
<path d="M768.2,18.5V26M768.2,675.2V683"/>
<path d="M879.5,18.5V26M879.5,675.2V683"/>
<path d="M44.2,565.3H52M985.6,565.3H993.6"/>
<path d="M44.2,449.9H52M985.6,449.9H993.6"/>
<path d="M44.2,334.5H52M985.6,334.5H993.6"/>
<path d="M44.2,219.0H52M985.6,219.0H993.6"/>
<path d="M44.2,103.6H52M985.6,103.6H993.6"/>
</g>
<g class="ax">
<text x="100.6" y="13.2" text-anchor="middle">90° W</text>
<text x="100.6" y="700.4" text-anchor="middle">90° W</text>
<text x="211.9" y="13.2" text-anchor="middle">85° W</text>
<text x="211.9" y="700.4" text-anchor="middle">85° W</text>
<text x="323.1" y="13.2" text-anchor="middle">80° W</text>
<text x="323.1" y="700.4" text-anchor="middle">80° W</text>
<text x="434.4" y="13.2" text-anchor="middle">75° W</text>
<text x="434.4" y="700.4" text-anchor="middle">75° W</text>
<text x="545.7" y="13.2" text-anchor="middle">70° W</text>
<text x="545.7" y="700.4" text-anchor="middle">70° W</text>
<text x="657.0" y="13.2" text-anchor="middle">65° W</text>
<text x="657.0" y="700.4" text-anchor="middle">65° W</text>
<text x="768.2" y="13.2" text-anchor="middle">60° W</text>
<text x="768.2" y="700.4" text-anchor="middle">60° W</text>
<text x="879.5" y="13.2" text-anchor="middle">55° W</text>
<text x="879.5" y="700.4" text-anchor="middle">55° W</text>
<text x="43.2" y="572.1" text-anchor="end">5° N</text>
<text x="994" y="572.1">5° N</text>
<text x="43.2" y="456.7" text-anchor="end">10° N</text>
<text x="994" y="456.7">10° N</text>
<text x="43.2" y="341.3" text-anchor="end">15° N</text>
<text x="994" y="341.3">15° N</text>
<text x="43.2" y="225.8" text-anchor="end">20° N</text>
<text x="994" y="225.8">20° N</text>
<text x="43.2" y="110.4" text-anchor="end">25° N</text>
<text x="994" y="110.4">25° N</text>
</g>
<rect class="box" x="205.5" y="75.5" width="37.0" height="71.0"/>
<path d="M205.5,98.5H242.5" stroke="#000" stroke-width="1" fill="none"/>
<path d="M205.5,122.5H242.5" stroke="#000" stroke-width="1" fill="none"/>
<text class="num" x="223.4" y="94.5">50</text>
<text class="num" x="223.4" y="118.8">30</text>
<text class="num" x="223.4" y="143.5">20</text>
<rect class="box" x="467.5" y="53.5" width="37.0" height="72.0"/>
<path d="M467.5,76.5H504.5" stroke="#000" stroke-width="1" fill="none"/>
<path d="M467.5,101.5H504.5" stroke="#000" stroke-width="1" fill="none"/>
<text class="num" x="485.4" y="72.7">50</text>
<text class="num" x="485.4" y="97.0">30</text>
<text class="num" x="485.4" y="121.7">20</text>
<rect class="box" x="561.5" y="159.5" width="37.0" height="72.0"/>
<path d="M561.5,182.5H598.5" stroke="#000" stroke-width="1" fill="none"/>
<path d="M561.5,206.5H598.5" stroke="#000" stroke-width="1" fill="none"/>
<text class="num" x="579.4" y="178.4">45</text>
<text class="num" x="579.4" y="202.7">35</text>
<text class="num" x="579.4" y="227.4">20</text>
<rect class="box" x="754.5" y="197.5" width="38.0" height="73.0"/>
<path d="M754.5,220.5H792.5" stroke="#000" stroke-width="1" fill="none"/>
<path d="M754.5,245.5H792.5" stroke="#000" stroke-width="1" fill="none"/>
<text class="num" x="772.9" y="216.5">50</text>
<text class="num" x="772.9" y="240.8">30</text>
<text class="num" x="772.9" y="265.5">20</text>
<rect class="box" x="219.5" y="218.5" width="37.0" height="72.0"/>
<path d="M219.5,241.5H256.5" stroke="#000" stroke-width="1" fill="none"/>
<path d="M219.5,266.5H256.5" stroke="#000" stroke-width="1" fill="none"/>
<text class="num" x="237.4" y="237.8">60</text>
<text class="num" x="237.4" y="262.1">25</text>
<text class="num" x="237.4" y="286.8">15</text>
<rect class="box" x="145.5" y="290.5" width="37.0" height="71.0"/>
<path d="M145.5,313.5H182.5" stroke="#000" stroke-width="1" fill="none"/>
<path d="M145.5,337.5H182.5" stroke="#000" stroke-width="1" fill="none"/>
<text class="num" x="163.4" y="310.0">60</text>
<text class="num" x="163.4" y="334.3">25</text>
<text class="num" x="163.4" y="359.0">15</text>
<rect class="box" x="398.5" y="271.5" width="37.0" height="73.0"/>
<path d="M398.5,294.5H435.5" stroke="#000" stroke-width="1" fill="none"/>
<path d="M398.5,319.5H435.5" stroke="#000" stroke-width="1" fill="none"/>
<text class="num" x="416.4" y="290.7">45</text>
<text class="num" x="416.4" y="315.0">35</text>
<text class="num" x="416.4" y="339.7">20</text>
<rect class="box" x="532.5" y="264.5" width="36.0" height="73.0"/>
<path d="M532.5,287.5H568.5" stroke="#000" stroke-width="1" fill="none"/>
<path d="M532.5,312.5H568.5" stroke="#000" stroke-width="1" fill="none"/>
<text class="num" x="549.9" y="283.2">45</text>
<text class="num" x="549.9" y="307.5">35</text>
<text class="num" x="549.9" y="332.2">20</text>
<rect class="box" x="588.5" y="324.5" width="37.0" height="72.0"/>
<path d="M588.5,347.5H625.5" stroke="#000" stroke-width="1" fill="none"/>
<path d="M588.5,371.5H625.5" stroke="#000" stroke-width="1" fill="none"/>
<text class="num" x="606.4" y="343.6">50</text>
<text class="num" x="606.4" y="367.9">30</text>
<text class="num" x="606.4" y="392.6">20</text>
<rect class="box" x="794.5" y="295.5" width="37.0" height="72.0"/>
<path d="M794.5,318.5H831.5" stroke="#000" stroke-width="1" fill="none"/>
<path d="M794.5,342.5H831.5" stroke="#000" stroke-width="1" fill="none"/>
<text class="num" x="812.4" y="314.6">50</text>
<text class="num" x="812.4" y="338.9">30</text>
<text class="num" x="812.4" y="363.6">20</text>
<rect class="box" x="656.5" y="436.5" width="37.0" height="73.0"/>
<path d="M656.5,459.5H693.5" stroke="#000" stroke-width="1" fill="none"/>
<path d="M656.5,484.5H693.5" stroke="#000" stroke-width="1" fill="none"/>
<text class="num" x="674.4" y="455.5">50</text>
<text class="num" x="674.4" y="479.8">30</text>
<text class="num" x="674.4" y="504.5">20</text>
<rect class="box" x="733.5" y="539.5" width="37.0" height="72.0"/>
<path d="M733.5,562.5H770.5" stroke="#000" stroke-width="1" fill="none"/>
<path d="M733.5,586.5H770.5" stroke="#000" stroke-width="1" fill="none"/>
<text class="num" x="751.4" y="558.4">25</text>
<text class="num" x="751.4" y="582.7">35</text>
<text class="num" x="751.4" y="607.4">40</text>
<rect class="box" x="542.5" y="46.5" width="34" height="104"/>
<path d="M542.5,81.5H576.6M542.5,115.5H576.6" stroke="#000" stroke-width="1" fill="none"/>
<text class="leg" x="558.7" y="71.5" text-anchor="middle">A</text>
<text class="leg" x="582.6" y="70.3" textLength="264.2">% above-normal temperature</text>
<text class="leg" x="558.7" y="106.0" text-anchor="middle">N</text>
<text class="leg" x="582.6" y="104.8" textLength="201.2">% normal temperature</text>
<text class="leg" x="558.7" y="140.4" text-anchor="middle">B</text>
<text class="leg" x="582.6" y="139.2" textLength="264.2">% below-normal temperature</text>
<text class="ttl" x="97.3" y="528.1">Minimum Temperature Outlook</text>
<text class="ttl" x="197.4" y="564.8">for the Caribbean</text>
<text class="sub" x="198.6" y="593.6">April - May - June 2026</text>
<g font-family='"Liberation Serif","Times New Roman",serif' fill="#2C7CBE" stroke="#2C7CBE" stroke-width="0.8">
<text x="201.8" y="639.8" font-size="59" textLength="41" lengthAdjust="spacingAndGlyphs">C</text>
<text x="241.2" y="639" font-size="38.5" textLength="70" lengthAdjust="spacingAndGlyphs">ARI</text>
<text x="312.2" y="639.8" font-size="59" textLength="119" lengthAdjust="spacingAndGlyphs">COF</text>
</g>
<rect x="203" y="642.2" width="227.8" height="2.6" fill="#7B76B8"/>
<text x="203" y="659.2" font-family='"Liberation Sans",Arial,sans-serif' font-weight="bold" font-size="12.4" fill="#6E6BB0" textLength="227.5" lengthAdjust="spacingAndGlyphs">CARIBBEAN CLIMATE OUTLOOK FORUM</text>

<g>
<rect x="281.8" y="767.6" width="33.7" height="16.3" fill="#3F4C8A"/>
<rect x="315.2" y="767.6" width="30.9" height="16.3" fill="#6074BA"/>
<rect x="345.8" y="767.6" width="32.4" height="16.3" fill="#8F97D0"/>
<rect x="377.9" y="767.6" width="30.9" height="16.3" fill="#BEC3E4"/>
<rect x="408.5" y="767.6" width="32.9" height="16.3" fill="#E7EAF7"/>
<rect x="587.5" y="767.6" width="32.7" height="16.3" fill="#FCE7DE"/>
<rect x="619.9" y="767.6" width="32.7" height="16.3" fill="#F9C4AF"/>
<rect x="652.3" y="767.6" width="31.2" height="16.3" fill="#E98C73"/>
<rect x="683.2" y="767.6" width="32.7" height="16.3" fill="#D25A42"/>
<rect x="715.6" y="767.6" width="33.7" height="16.3" fill="#AE382B"/>
<rect x="498.5" y="767.4" width="32.4" height="16.5" fill="#C8C9CB" stroke="#AAA" stroke-width="0.8"/>
<path d="M315.2,767.6V783.9M345.8,767.6V783.9" stroke="#2a3464" stroke-opacity="0.55" stroke-width="0.8" fill="none"/>
<path d="M652.3,767.6V783.9M683.2,767.6V783.9M715.6,767.6V783.9" stroke="#6b3a30" stroke-opacity="0.55" stroke-width="0.8" fill="none"/>
</g><g class="cb" text-anchor="middle">
<text x="361.4" y="762.6">Below-normal temp.</text>
<text x="514.9" y="762.6">Normal temp.</text>
<text x="668" y="762.6">Above-normal temp.</text>
<text x="314.3" y="795.4">70</text>
<text x="344.7" y="795.4">60</text>
<text x="376.6" y="795.4">50</text>
<text x="407.8" y="795.4">45</text>
<text x="439.4" y="795.4">40</text>
<text x="514.9" y="795.4">40</text>
<text x="589.9" y="795.4">40</text>
<text x="621.3" y="795.4">45</text>
<text x="653.2" y="795.4">50</text>
<text x="684.3" y="795.4">60</text>
<text x="715.8" y="795.4">70</text>
</g>
</svg></body></html>
